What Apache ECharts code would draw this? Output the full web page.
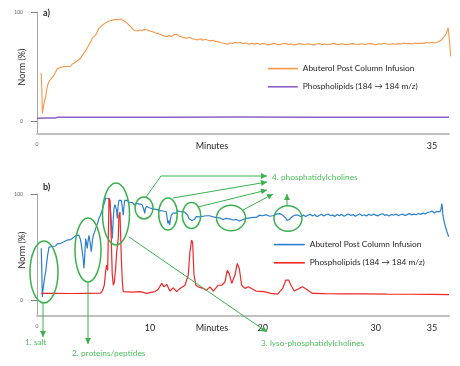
<!DOCTYPE html>
<html><head><meta charset="utf-8">
<script src="https://cdn.jsdelivr.net/npm/echarts@6/dist/echarts.min.js"></script>
<style>html,body{margin:0;padding:0;background:#fff}#c{width:460px;height:366px}</style>
</head><body><div id="c"></div>
<script>
// ---------- DATA (minutes, Norm %) ----------
const nameAbut = 'Abuterol Post Column Infusion';
const namePhos = 'Phospholipids (184 \u2192 184 m/z)';
const xTicksA = [0, 35];
const xTicksB = [0, 10, 20, 30, 35];
const yTicks = [0, 100];

// panel a) Abuterol post column infusion (orange)
const abuterolA = [[0.38,44],[0.45,20],[0.47,7],[0.55,12],[0.65,18],[0.77,22],[0.85,28],[0.95,33],[1.06,36],[1.2,38],[1.35,40],[1.5,42],[1.65,45],[1.8,48],[1.95,47],[2.1,49],[2.25,48],[2.4,50],[2.55,49],[2.68,50],[2.8,51],[2.95,50],[3.1,52],[3.28,53],[3.4,52],[3.55,55],[3.7,56],[3.87,57.5],[4.0,60],[4.15,62],[4.31,63.6],[4.45,67],[4.6,70],[4.76,72.8],[4.9,76],[5.05,77],[5.2,79],[5.35,82],[5.49,85],[5.65,86],[5.8,88],[5.93,89.6],[6.1,90],[6.3,91.5],[6.5,92],[6.67,92.7],[6.85,93],[7.0,92],[7.2,93],[7.41,93.6],[7.6,92.5],[7.86,91],[8.05,89],[8.3,86.5],[8.5,84],[8.7,83],[8.88,82.6],[9.1,83.5],[9.3,83],[9.5,84],[9.77,83.5],[10.0,82.5],[10.2,82],[10.45,81],[10.66,80.4],[10.9,79.5],[11.1,78.5],[11.3,78],[11.5,77.3],[11.7,78.5],[11.9,77.5],[12.1,79],[12.4,79.5],[12.6,78],[12.85,77],[13.05,76.5],[13.3,75.9],[13.5,76.8],[13.75,75.5],[14.0,75],[14.2,74.3],[14.45,75.5],[14.7,74],[14.9,75],[15.1,74.3],[15.35,73.5],[15.6,74],[15.8,73],[16.0,72.8],[16.25,72],[16.45,71.5],[16.7,71],[16.9,70.4],[17.1,71.5],[17.3,71],[17.55,72],[17.8,71.5],[18.0,72.2],[18.2,71],[18.45,71.5],[18.8,70.4],[19.0,71.2],[19.25,70.5],[19.5,71.3],
[19.75,70.2],[20.0,71.0],[20.25,70.6],[20.5,69.8],[20.75,70.5],[21.0,71.2],[21.25,70.4],[21.5,69.9],[21.75,70.8],[22.0,71.3],[22.25,70.1],[22.5,70.6],[22.75,69.7],[23.0,70.3],[23.25,71.0],[23.5,70.5],[23.75,70.0],[24.0,70.9],[24.25,70.3],[24.5,69.8],[24.75,70.6],[25.0,71.1],[25.25,70.2],[25.5,70.7],[25.75,69.9],[26.0,70.4],[26.25,71.2],[26.5,70.5],[26.75,70.0],[27.0,70.8],[27.25,70.3],[27.5,69.9],[27.75,70.7],[28.0,71.0],[28.25,70.4],[28.5,70.1],[28.75,70.9],[29.0,70.3],[29.25,70.6],[29.5,71.2],[29.75,70.5],[30.0,70.0],[30.25,70.8],[30.5,70.4],[30.75,71.3],[31.0,70.6],[31.25,70.1],[31.5,70.9],[31.75,70.4],[32.0,71.0],[32.25,70.6],[32.5,71.4],[32.75,70.8],[33.0,71.2],[33.25,70.7],[33.5,71.5],[33.75,71.0],[34.0,71.6],[34.25,71.2],[34.5,72.0],[34.75,71.5],[35.0,72.3],
[35.2,71.5],[35.5,72.5],[35.8,74],[36.05,77],[36.25,80],[36.43,85.6],[36.55,72],[36.64,60.5],[36.75,58],[36.93,54.4]];

// panel a) Phospholipids (purple)
const phosA = [[0,2.5],[0.8,2.6],[1.6,2.6],[1.8,3.4],[6,3.3],[12,3.4],[18,3.5],[24,3.4],[30,3.4],[36.5,3.4]];

// panel b) Abuterol post column infusion (blue)
const abuterolB = [[0.38,48.8],[0.43,25],[0.47,3],[0.53,10],[0.66,20],[0.77,26.7],[0.91,40],[1.06,50],[1.2,51.5],[1.35,50.5],[1.5,52],[1.65,51],[1.8,53],[1.95,52],[2.1,53.5],[2.25,52.5],[2.4,55],[2.55,54],[2.68,56.6],[2.8,55],[2.95,57],[3.13,58],[3.25,57],[3.43,61],[3.55,59.5],[3.72,61],[3.85,57],[3.93,52],[4.01,45.6],[4.1,38],[4.16,30],[4.22,40],[4.31,58],[4.38,54],[4.45,48.8],[4.53,56],[4.61,61],[4.7,55],[4.81,45.6],[4.9,55],[4.99,61],[5.1,64],[5.2,67.6],[5.35,72],[5.49,77],[5.62,80],[5.78,85],[5.92,90],[6.08,96],[6.2,95],[6.38,96],[6.45,90],[6.53,83],[6.6,70],[6.67,58],[6.75,75],[6.82,86.5],[6.9,90],[6.97,91],[7.05,85],[7.11,77],[7.18,88],[7.26,94],[7.35,93],[7.47,94],[7.55,88],[7.64,80],[7.7,88],[7.77,94],[7.88,95],[8.0,94],[8.15,92],[8.3,91],[8.45,92],[8.6,90],[8.75,91.5],[8.88,91],[9.0,89.5],[9.15,90.5],[9.33,89.6],[9.45,88],[9.5,84],[9.54,81.8],[9.6,86],[9.7,88.5],[9.83,88],[9.95,87],[10.1,88],[10.25,86],[10.42,86.5],[10.55,85.5],[10.7,86.5],[10.85,84.5],[11.01,85],[11.15,84],[11.3,85],[11.45,83.3],[11.52,78],[11.6,72.3],[11.68,75],[11.75,70.7],[11.82,76],[11.9,80],[12.05,82],[12.2,83.3],[12.35,82],[12.5,84],[12.65,82.5],[12.78,83.3],[12.92,82],[13.07,83],[13.22,81.8],[13.35,80],[13.45,77],[13.52,75.5],[13.62,78],[13.72,75],[13.82,74],[13.95,76],[14.11,78.6],[14.25,79.5],[14.4,78.5],[14.55,80],[14.7,79],[14.85,80.5],[15.0,79.5],[15.15,81],[15.3,79.5],[15.44,80],[15.6,78.5],[15.75,80],[15.9,78],[16.03,78.6],[16.18,77.5],[16.32,77],[16.48,76],[16.63,75.5],[16.78,77],[16.92,75.5],[17.05,76.5],[17.21,77],[17.36,75.5],[17.51,74],[17.65,76],[17.8,75.5],[17.95,74.5],[18.1,74],[18.25,76],[18.4,77.5],[18.55,77],[18.69,78.6],[18.85,77.5],[19.0,79],[19.15,78],[19.3,79.5],[19.45,78],[19.57,78.6],[19.7,80],[19.85,78.5],[20.0,79.5],[20.15,78.5],[20.3,80.5],[20.46,80],[20.6,79],[20.75,80.5],[20.9,79.5],[21.05,80],[21.2,81],[21.35,80],[21.5,81.5],[21.64,81.8],[21.78,80],[21.92,79],[22.05,77],[22.15,75],[22.23,74],[22.35,76],[22.5,77],[22.65,79],[22.83,80],[22.98,78.5],[23.12,80],[23.27,79],[23.41,78.6],
[23.6,80.2],[23.8,78.8],[24.0,79.9],[24.2,81.0],[24.4,79.3],[24.6,80.5],[24.8,78.7],[25.0,79.8],[25.2,80.9],[25.4,79.2],[25.6,80.4],[25.8,81.2],[26.0,79.6],[26.2,80.1],[26.4,78.9],[26.6,80.7],[26.8,79.4],[27.0,80.8],[27.2,79.1],[27.4,80.3],[27.6,81.1],[27.8,79.7],[28.0,80.6],[28.2,79.0],[28.4,80.2],[28.6,81.3],[28.8,79.5],[29.0,80.4],[29.2,79.2],[29.4,80.9],[29.6,79.8],[29.8,81.0],[30.0,80.1],[30.2,79.4],[30.4,80.7],[30.6,81.4],[30.8,79.9],[31.0,80.5],[31.2,79.3],[31.4,80.8],[31.6,80.0],[31.8,81.2],[32.0,79.6],[32.2,80.4],[32.4,81.0],[32.6,79.8],[32.8,80.6],[33.0,81.5],[33.2,80.2],[33.4,81.0],[33.6,80.4],[33.8,81.6],[34.0,80.8],[34.2,82.0],[34.4,81.2],[34.6,82.5],[34.8,83.0],
[35.0,84],[35.2,82],[35.4,83.5],[35.55,82.5],[35.7,83.3],[35.8,86],[35.87,91],[35.92,86],[35.96,80],[36.03,76],[36.11,72],[36.2,70.7],[36.32,64.4],[36.4,62],[36.47,59.7]];

// panel b) Phospholipids (red)
const phosB = [[0.38,6.3],[1.5,6.4],[3,6.2],[4.5,6.4],[5.64,6.5],[5.8,9],[5.96,14],[6.08,27],[6.17,33],[6.26,28],[6.32,61],[6.38,96],[6.47,94],[6.55,67.6],[6.67,23.6],[6.76,14],[6.85,17],[6.97,30],[7.06,45.6],[7.2,58],[7.26,80],[7.35,83],[7.41,61],[7.47,39.6],[7.56,17],[7.64,8],[7.8,7.5],[8.5,7.5],[9.12,8],[9.72,6.3],[10.0,7],[10.45,8],[10.72,10],[11.05,15.7],[11.25,12.5],[11.49,14.8],[11.78,8.5],[12.07,11.6],[12.37,8],[12.67,11],[13.11,14],[13.4,23.6],[13.55,45.6],[13.7,56.6],[13.79,53.8],[13.91,23.6],[14.08,14],[14.29,12.5],[14.73,11],[15.03,9.4],[15.32,12.5],[15.62,8.5],[16.06,14],[16.36,14],[16.65,17],[16.86,28],[17.03,25],[17.25,15.7],[17.54,23.6],[17.74,34.6],[17.92,30],[18.13,14],[18.42,11],[18.72,12.5],[19.4,8.5],[20.13,8],[20.73,6.3],[21.32,5.6],[21.76,11],[22.05,18.9],[22.29,18.9],[22.5,14],[22.79,8.5],[23.23,11],[23.53,12.5],[23.83,10.4],[24.42,6.3],[25.5,6],[27,5.8],[29,5.9],[31,5.6],[33,5.5],[35,5.3],[36.5,5.2]];

// annotation labels
const notes = ['1. salt', '2. proteins/peptides', '3. lyso-phosphatidylcholines', '4. phosphatidylcholines'];

// ---------- CHART ----------
const FONT = 'Lato, "Open Sans", sans-serif';
const GREEN = '#3bb14e', GREENTXT = '#4cbf5c';
const chart = echarts.init(document.getElementById('c'), null, {renderer: 'canvas'});

function xAxisCfg(gi, ticks) {
  return {
    gridIndex: gi, type: 'value', min: 0, max: 36.5,
    axisLine: {show: true, onZero: false, lineStyle: {color: '#c0c0c0', width: 2}},
    axisTick: {show: false}, splitLine: {show: false},
    axisLabel: {customValues: ticks, margin: 8, fontFamily: FONT, fontSize: 9, color: '#262626',
      formatter: v => v === 0 ? '{s|0}' : String(v),
      rich: {s: {fontSize: 5, color: '#595959', fontFamily: FONT}}}
  };
}
function yAxisCfg(gi, min) {
  return {
    gridIndex: gi, type: 'value', min: min, max: 100,
    axisLine: {show: true, onZero: false, lineStyle: {color: '#a6a6a6', width: 1}},
    axisTick: {show: true, customValues: yTicks, length: 6, lineStyle: {color: '#808080'}},
    axisLabel: {customValues: yTicks, margin: 14, fontSize: 5, color: '#595959', fontFamily: FONT},
    splitLine: {show: false}
  };
}
function arrowHead(x1, y1, x2, y2) {
  const a = Math.atan2(y2 - y1, x2 - x1), L = 6, W = 3;
  const bx = x2 - L * Math.cos(a), by = y2 - L * Math.sin(a);
  return {type: 'polygon', silent: true, z: 100, shape: {points: [[x2, y2],
    [bx + W * Math.sin(a), by - W * Math.cos(a)], [bx - W * Math.sin(a), by + W * Math.cos(a)]]},
    style: {fill: GREEN}};
}
function arrow(pts) {
  const n = pts.length;
  return [{type: 'polyline', silent: true, z: 100, shape: {points: pts}, style: {stroke: GREEN, lineWidth: 1, fill: null}},
    arrowHead(pts[n-2][0], pts[n-2][1], pts[n-1][0], pts[n-1][1])];
}
function ell(cx, cy, rx, ry) {
  return {type: 'ellipse', silent: true, z: 100, shape: {cx, cy, rx, ry}, style: {stroke: GREEN, lineWidth: 1.5, fill: null}};
}
function txt(x, y, t, o) {
  return Object.assign({type: 'text', silent: true, z: 100, x, y,
    style: Object.assign({text: t, fontFamily: FONT, fontSize: 9, fill: '#262626', textVerticalAlign: 'middle'}, o || {})});
}

const graphics = [
  txt(43, 13, 'a)', {fontWeight: 'bold'}),
  txt(43, 187, 'b)', {fontWeight: 'bold'}),
  txt(22, 67, 'Norm (%)', {textAlign: 'center'}),
  txt(22, 250, 'Norm (%)', {textAlign: 'center'}),
  txt(212, 146, 'Minutes', {textAlign: 'center'}),
  txt(212, 328, 'Minutes', {textAlign: 'center'}),
  ell(44, 272, 14, 31), ell(88, 250, 13, 32), ell(116, 214, 13.5, 31),
  ell(144, 208, 9, 11), ell(168, 214, 9.3, 16), ell(191.5, 215.5, 9.2, 13),
  ell(231, 218, 14.5, 12.7), ell(288, 218.5, 14, 12.7),
  ...arrow([[43, 303], [43, 337]]),
  ...arrow([[88, 282], [88, 344]]),
  ...arrow([[129, 237], [267, 332]]),
  ...arrow([[146, 197], [161, 176], [267, 176]]),
  ...arrow([[173, 198], [267, 182]]),
  ...arrow([[198, 207], [267, 190]]),
  ...arrow([[243, 210], [273, 194]]),
  ...arrow([[287, 206], [287, 194]]),
  txt(25, 342, notes[0], {fill: GREENTXT, fontSize: 8.3}),
  txt(72, 353, notes[1], {fill: GREENTXT, fontSize: 8.3}),
  txt(261, 343, notes[2], {fill: GREENTXT, fontSize: 8.3}),
  txt(272, 177, notes[3], {fill: GREENTXT, fontSize: 8.3})
];
// rotate the y-axis titles
graphics[2].rotation = Math.PI / 2; graphics[3].rotation = Math.PI / 2;

const lineS = (name, data, color, xi, w) => ({
  name, type: 'line', xAxisIndex: xi, yAxisIndex: xi, data, showSymbol: false, symbol: 'none',
  clip: false, lineStyle: {color, width: w || 1.2}, itemStyle: {color}, animation: false
});
const legendText = {fontFamily: FONT, fontSize: 8.3, color: '#262626'};

chart.setOption({
  animation: false,
  textStyle: {fontFamily: FONT},
  grid: [
    {left: 37, width: 412, top: 12, height: 122},
    {left: 37, width: 412, top: 194, height: 122}
  ],
  xAxis: [xAxisCfg(0, xTicksA), xAxisCfg(1, xTicksB)],
  yAxis: [yAxisCfg(0, -12), yAxisCfg(1, -15)],
  legend: [
    {data: [nameAbut, namePhos], orient: 'vertical', left: 262, top: 58, itemWidth: 30, itemHeight: 14, itemGap: 7,
      itemStyle: {opacity: 0}, lineStyle: {width: 1.6},
      textStyle: legendText, selectedMode: false},
    {data: [nameAbut + ' ', namePhos + ' '], orient: 'vertical', left: 268, top: 234, itemWidth: 31, itemHeight: 14, itemGap: 7,
      itemStyle: {opacity: 0}, lineStyle: {width: 1.6},
      textStyle: legendText, selectedMode: false}
  ],
  series: [
    lineS(nameAbut, abuterolA, '#f79646', 0, 1.1),
    lineS(namePhos, phosA, '#9060c8', 0, 1.5),
    lineS(nameAbut + ' ', abuterolB, '#2b7fcf', 1, 1.2),
    lineS(namePhos + ' ', phosB, '#f02828', 1, 1.2)
  ],
  graphic: graphics
});
</script></body></html>
